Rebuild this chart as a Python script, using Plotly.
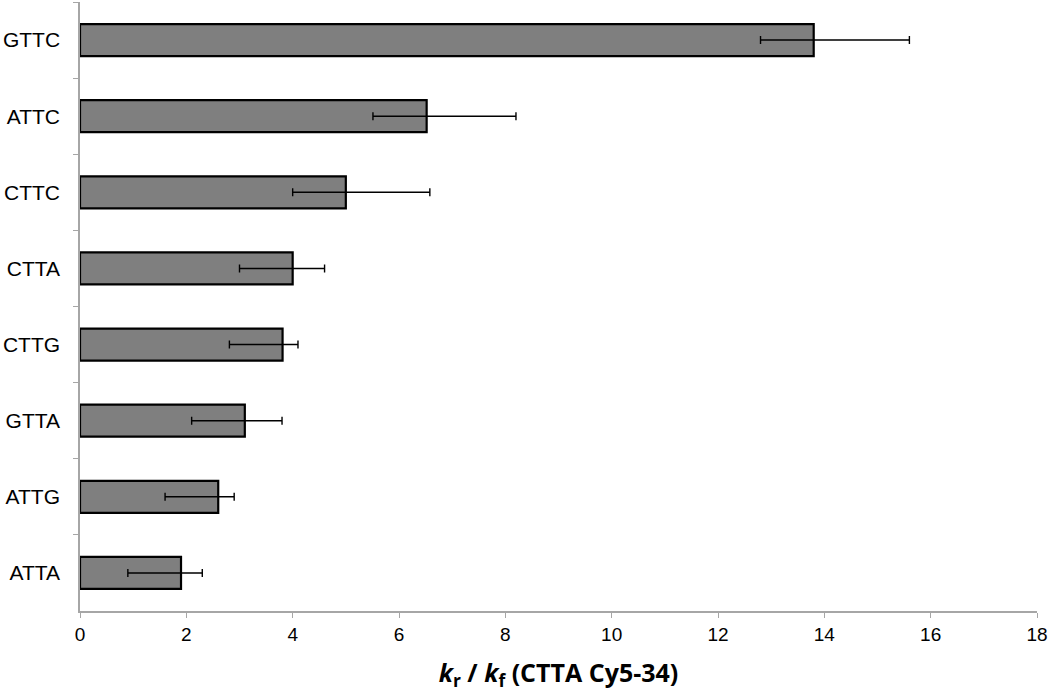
import plotly.graph_objects as go

categories = ["GTTC", "ATTC", "CTTC", "CTTA", "CTTG", "GTTA", "ATTG", "ATTA"]
values = [13.8, 6.52, 5.0, 4.0, 3.81, 3.1, 2.6, 1.9]
err_plus = [1.8, 1.68, 1.58, 0.6, 0.29, 0.7, 0.3, 0.4]
err_minus = [1.0, 1.01, 1.0, 1.0, 1.0, 1.0, 1.0, 1.0]
x_ticks = [0, 2, 4, 6, 8, 10, 12, 14, 16, 18]

fig = go.Figure(
    go.Bar(
        x=values,
        y=categories,
        orientation="h",
        width=0.42,
        marker=dict(color="#7f7f7f", line=dict(color="#000000", width=2.2)),
        error_x=dict(
            type="data",
            symmetric=False,
            array=err_plus,
            arrayminus=err_minus,
            color="#000000",
            thickness=1.4,
            width=4,
        ),
    )
)

fig.update_layout(
    width=1050,
    height=695,
    margin=dict(l=80, r=13, t=2, b=84, autoexpand=False),
    paper_bgcolor="white",
    plot_bgcolor="white",
    showlegend=False,
    font=dict(family="Liberation Sans, Arial, sans-serif", color="#000000"),
)

fig.update_xaxes(
    range=[0, 18],
    tickvals=x_ticks,
    ticks="outside",
    ticklen=5,
    tickcolor="#a6a6a6",
    showline=True,
    linecolor="#a6a6a6",
    linewidth=1.5,
    showgrid=False,
    zeroline=False,
    automargin=False,
    tickfont=dict(size=19, family="Liberation Sans, Arial, sans-serif"),
    title=dict(
        text="<b><i>k</i><sub>r</sub> / <i>k</i><sub>f</sub> (CTTA Cy5-34)</b>",
        font=dict(size=25, family="Open Sans, sans-serif"),
        standoff=21,
    ),
)

fig.update_yaxes(
    autorange="reversed",
    ticks="outside",
    tickson="boundaries",
    ticklen=5,
    tickcolor="#a6a6a6",
    showline=True,
    linecolor="#a6a6a6",
    linewidth=1.5,
    showgrid=False,
    automargin=False,
    tickfont=dict(size=21, family="Liberation Sans, Arial, sans-serif"),
    ticklabelstandoff=14,
)

fig.write_html(
    "out.html",
    config={"displayModeBar": False},
    post_script="document.body.style.margin='0';",
)
